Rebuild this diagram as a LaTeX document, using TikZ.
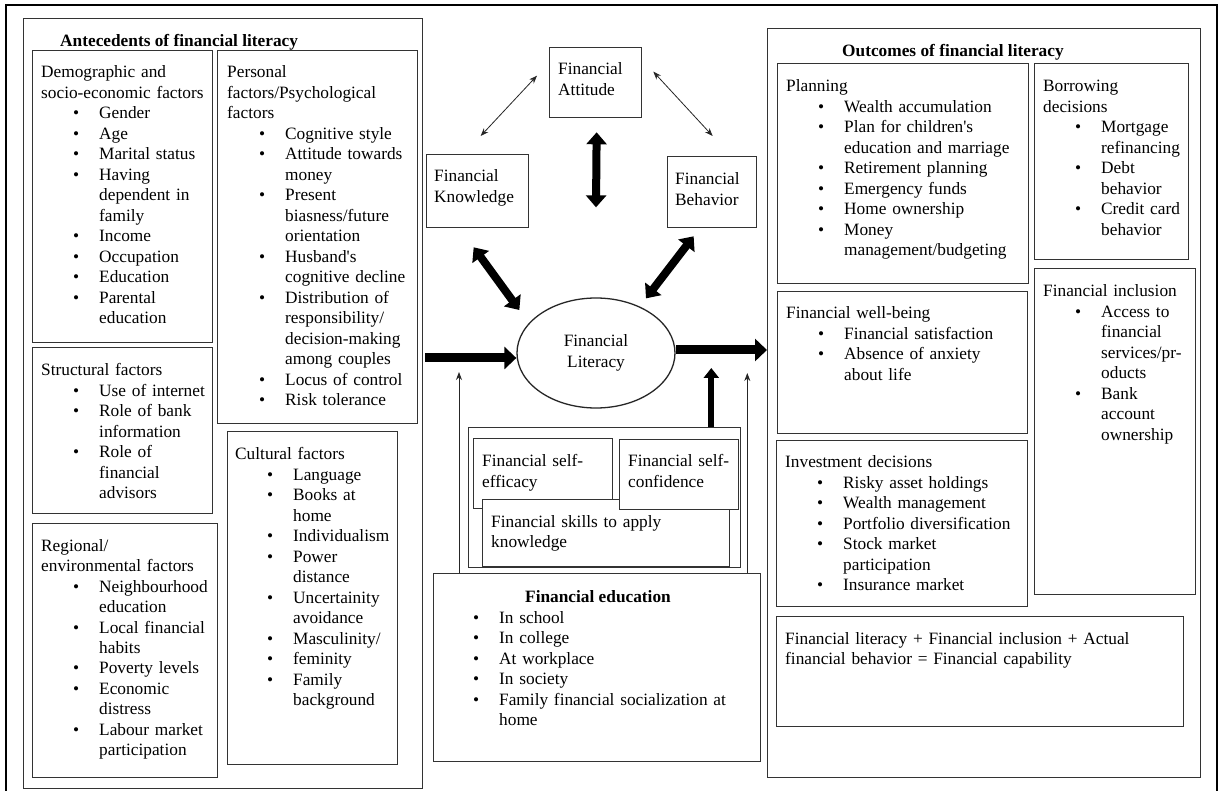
\documentclass[tikz,border=0pt]{standalone}
\usepackage{fontspec}
\setmainfont{Liberation Serif}
\usetikzlibrary{arrows.meta,calc,shapes.geometric}
\newcommand{\myfs}{\fontsize{17.3}{20.5}\selectfont}
\newcommand{\ap}{\textquotesingle}
\newcommand{\bitem}[1]{\par\noindent\hspace*{32pt}\makebox[26pt][l]{\textbullet}#1}
\newcommand{\cont}[1]{\par\noindent\hspace*{58pt}#1}
\newcommand{\nln}[1]{\par\noindent #1}
\newcommand{\mybox}[5]{\node[bx,anchor=north west,minimum width={(#4-#2)*1pt},minimum height={(#5-#3)*1pt}] (#1) at (#2,#3) {};}
\begin{document}
\begin{tikzpicture}[x=1pt,y=-1pt,
  bx/.style={draw=black!80,line width=1.3pt,inner sep=0pt,fill=white},
  tx/.style={anchor=base west,inner sep=0pt,text width=440pt,align=left,font=\myfs},
  hd/.style={anchor=base west,inner sep=0pt,font=\myfs\bfseries},
  thinarr/.style={draw=black!85,line width=0.8pt,{Stealth[length=8pt,width=6pt]}-{Stealth[length=8pt,width=6pt]}},
  thinup/.style={draw=black!85,line width=0.8pt,-{Stealth[length=8pt,width=6pt]}},
  dblarr/.style={line width=8pt,{Triangle[length=12pt,width=20pt]}-{Triangle[length=12pt,width=20pt]}},
  bigarr/.style={line width=9pt,-{Triangle[length=12pt,width=22pt]}},
  uparr/.style={line width=6pt,-{Triangle[length=10pt,width=15pt]}}]
\useasboundingbox[fill=white] (0,0) rectangle (1219,791);
\draw[line width=1.6pt] (6,800) -- (6,5) -- (1217,5) -- (1217,800);
% ---------------- antecedents
\mybox{ante}{23}{18}{422}{788}
\node[hd] (tante) at (60,47) {Antecedents of financial literacy};
\mybox{demo}{32}{50}{212}{342}
\node[tx] (tdemo) at (41,78) {Demographic and\nln{socio-economic factors}%
\bitem{Gender}\bitem{Age}\bitem{Marital status}\bitem{Having}\cont{dependent in}\cont{family}%
\bitem{Income}\bitem{Occupation}\bitem{Education}\bitem{Parental}\cont{education}};
\mybox{pers}{217}{50}{417}{423}
\node[tx] (tpers) at (227,78) {Personal\nln{factors/Psychological}\nln{factors}%
\bitem{Cognitive style}\bitem{Attitude towards}\cont{money}\bitem{Present}\cont{biasness/future}\cont{orientation}%
\bitem{Husband\ap s}\cont{cognitive decline}\bitem{Distribution of}\cont{responsibility/}\cont{decision-making}\cont{among couples}%
\bitem{Locus of control}\bitem{Risk tolerance}};
\mybox{struc}{32}{347}{212}{513}
\node[tx] (tstruc) at (41,376) {Structural factors%
\bitem{Use of internet}\bitem{Role of bank}\cont{information}\bitem{Role of}\cont{financial}\cont{advisors}};
\mybox{regio}{32}{523}{217}{777}
\node[tx] (tregio) at (41,551) {Regional/\nln{environmental factors}%
\bitem{Neighbourhood}\cont{education}\bitem{Local financial}\cont{habits}\bitem{Poverty levels}%
\bitem{Economic}\cont{distress}\bitem{Labour market}\cont{participation}};
\mybox{cult}{227}{431}{397}{764}
\node[tx] (tcult) at (235,460) {Cultural factors%
\bitem{Language}\bitem{Books at}\cont{home}\bitem{Individualism}\bitem{Power}\cont{distance}%
\bitem{Uncertainity}\cont{avoidance}\bitem{Masculinity/}\bitem{feminity}\bitem{Family}\cont{background}};
% ---------------- centre
\mybox{att}{549}{47}{641}{117}
\node[tx] (tatt) at (558,75) {Financial\nln{Attitude}};
\mybox{know}{426}{154}{528}{227}
\node[tx] (tknow) at (434,182) {Financial\nln{Knowledge}};
\mybox{beh}{667}{156}{756}{227}
\node[tx] (tbeh) at (675,185) {Financial\nln{Behavior}};
\node[ellipse,draw=black!85,line width=1.3pt,minimum width=158pt,minimum height=110pt,inner sep=0pt,align=center,font=\myfs] (lit) at (596,353) {Financial\\Literacy};
\mybox{selfb}{468}{427}{740}{567}
\mybox{eff}{473}{438}{612}{508}
\node[tx] (teff) at (482,467) {Financial self-\nln{efficacy}};
\mybox{skill}{482}{499}{729}{566}
\node[tx] (tskill) at (491,527) {Financial skills to apply\nln{knowledge}};
\mybox{conf}{619}{439}{738}{509}
\node[tx] (tconf) at (628,467) {Financial self-\nln{confidence}};
\mybox{edu}{433}{573}{760}{761}
\node[font=\myfs\bfseries,anchor=base,inner sep=0pt] (tedu) at (598,602) {Financial education};
\node[tx] (ledu) at (441,623) {\noindent\hspace*{32pt}\makebox[26pt][l]{\textbullet}In school%
\bitem{In college}\bitem{At workplace}\bitem{In society}\bitem{Family financial socialization at}\cont{home}};
% ---------------- outcomes
\mybox{outc}{767}{28}{1200}{777}
\node[hd] (toutc) at (842,57) {Outcomes of financial literacy};
\mybox{plan}{777}{63}{1028}{283}
\node[tx] (tplan) at (786,92) {Planning%
\bitem{Wealth accumulation}\bitem{Plan for children\ap s}\cont{education and marriage}\bitem{Retirement planning}%
\bitem{Emergency funds}\bitem{Home ownership}\bitem{Money}\cont{management/budgeting}};
\mybox{borr}{1034}{63}{1188}{259}
\node[tx] (tborr) at (1043,92) {Borrowing\nln{decisions}%
\bitem{Mortgage}\cont{refinancing}\bitem{Debt}\cont{behavior}\bitem{Credit card}\cont{behavior}};
\mybox{well}{777}{291}{1027}{433}
\node[tx] (twell) at (786,319) {Financial well-being%
\bitem{Financial satisfaction}\bitem{Absence of anxiety}\cont{about life}};
\mybox{incl}{1034}{268}{1195}{594}
\node[tx] (tincl) at (1043,297) {Financial inclusion%
\bitem{Access to}\cont{financial}\cont{services/pr-}\cont{oducts}\bitem{Bank}\cont{account}\cont{ownership}};
\mybox{inv}{776}{440}{1027}{606}
\node[tx] (tinv) at (785,468) {Investment decisions%
\bitem{Risky asset holdings}\bitem{Wealth management}\bitem{Portfolio diversification}%
\bitem{Stock market}\cont{participation}\bitem{Insurance market}};
\mybox{cap}{776}{616}{1183}{726}
\node[tx] (tcap) at (785,644) {Financial literacy + Financial inclusion + Actual\nln{financial behavior = Financial capability}};
% ---------------- connectors
\draw[thinarr] ($(att.west)+(-12,-7)$) -- ($(know.north)+(3,-18)$);
\draw[thinarr] ($(att.east)+(11,-11)$) -- ($(beh.north)+(0.5,-20)$);
\draw[dblarr] ($(att.south)+(1,14)$) -- ($(lit.north)+(0,-90)$);
\draw[dblarr] ($(know.south)+(-4,19)$) -- ($(lit.west)+(3,-43)$);
\draw[dblarr] ($(beh.south)+(-18.5,8)$) -- ($(lit.north)+(50,1)$);
\draw[bigarr] ($(lit.west)+(-91,5)$) -- ($(lit.west)+(0,5)$);
\draw[bigarr] ($(lit.east)+(0,-3)$) -- ($(lit.east -| outc.west)+(0,-3)$);
\draw[thinup] ($(edu.north west)+(26,0)$) -- ++(0,-201);
\draw[thinup] ($(edu.north east)+(-14,0)$) -- ++(0,-200);
\draw[uparr] ($(selfb.north east)+(-30,0)$) -- ++(0,-59);
\end{tikzpicture}
\end{document}
